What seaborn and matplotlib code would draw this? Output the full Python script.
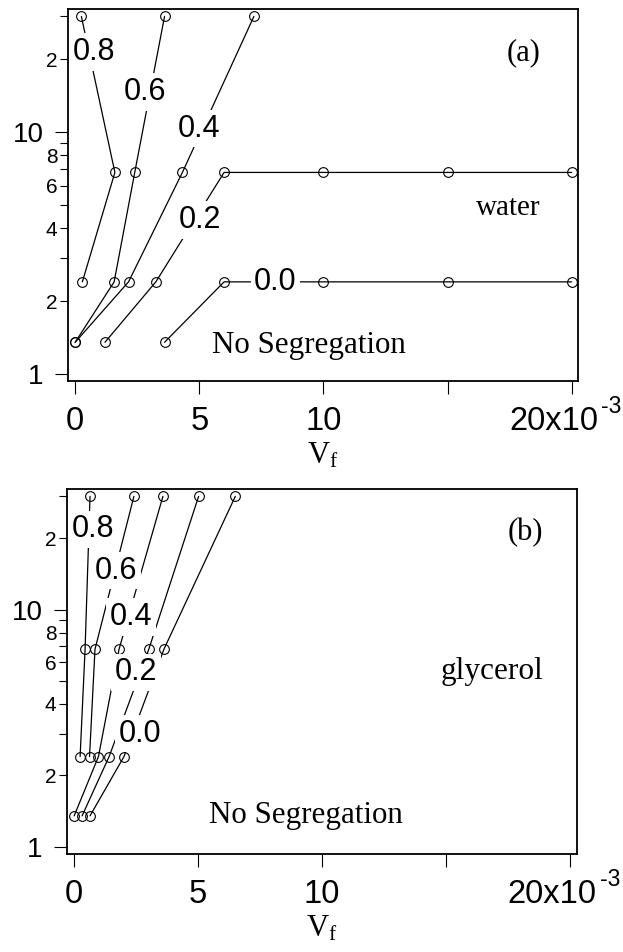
import numpy as np
import pandas as pd
import matplotlib
matplotlib.use("Agg")
import matplotlib.pyplot as plt
import seaborn as sns
from matplotlib.ticker import FixedLocator, FixedFormatter
from matplotlib.transforms import blended_transform_factory, ScaledTranslation

sns.set_theme(style="ticks")
plt.rcParams["font.family"] = ["Liberation Sans", "DejaVu Sans"]
plt.rcParams["mathtext.default"] = "regular"

SANS = "Liberation Sans"
SERIF = "Liberation Serif"

# ---------------- data (x in units of 1e-3) ----------------
series_names = ["0.0", "0.2", "0.4", "0.6", "0.8"]

# panel (a): water
a_x = {
    "0.0": [3.6, 6.0, 10, 15, 20],
    "0.2": [1.2, 3.25, 6.0, 10, 15, 20],
    "0.4": [0.0, 2.15, 4.32, 7.2],
    "0.6": [0.0, 1.57, 2.40, 3.6],
    "0.8": [0.29, 1.6, 0.25],
}
a_y = {
    "0.0": [1.35, 2.4, 2.4, 2.4, 2.4],
    "0.2": [1.35, 2.4, 6.8, 6.8, 6.8, 6.8],
    "0.4": [1.35, 2.4, 6.8, 30],
    "0.6": [1.35, 2.4, 6.8, 30],
    "0.8": [2.4, 6.8, 30],
}

# panel (b): glycerol
b_x = {
    "0.0": [0.64, 2.01, 3.62, 6.5],
    "0.2": [0.32, 1.41, 3.01, 5.02],
    "0.4": [0.0, 0.98, 1.81, 3.58],
    "0.6": [0.62, 0.84, 2.41],
    "0.8": [0.24, 0.44, 0.64],
}
b_y = {
    "0.0": [1.35, 2.4, 6.8, 30],
    "0.2": [1.35, 2.4, 6.8, 30],
    "0.4": [1.35, 2.4, 6.8, 30],
    "0.6": [2.4, 6.8, 30],
    "0.8": [2.4, 6.8, 30],
}

x_ticks = [0, 5, 10, 15, 20]
x_tick_labels = ["0", "5", "10", "", "20x10"]
x_exponent = "-3"
y_major = [1, 10]
y_major_labels = ["1", "10"]
y_minor = [2, 3, 4, 5, 6, 7, 8, 9, 20, 30]
y_minor_labels = ["2", "", "4", "", "6", "", "8", "", "2", ""]

# label placement (annotation positions, data coords)
a_label_pos = {"0.8": (0.755, 21.4), "0.6": (2.80, 14.6), "0.4": (4.97, 10.3),
               "0.2": (5.02, 4.33), "0.0": (8.07, 2.4)}
b_label_pos = {"0.8": (0.77, 21.8), "0.6": (1.70, 14.6), "0.4": (2.30, 9.31),
               "0.2": (2.48, 5.43), "0.0": (2.64, 3.0)}

XT_LEN, XT_PAD, XT_SIZE = 9.5, 8, 23.5


def to_frame(xd, yd):
    rows = []
    for s in series_names:
        for i, (xv, yv) in enumerate(zip(xd[s], yd[s])):
            rows.append({"series": s, "order": i, "x": xv * 1e-3, "y": yv})
    return pd.DataFrame(rows)


fig = plt.figure(figsize=(6.23, 9.52), dpi=100)
axA = fig.add_axes([0.1087, 0.5993, 0.8196, 0.3912])
axB = fig.add_axes([0.1071, 0.1027, 0.8186, 0.3836])


def draw_panel(ax, xd, yd, label_pos):
    df = to_frame(xd, yd)
    sns.lineplot(data=df, x="x", y="y", units="series", estimator=None,
                 sort=False, color="black", linewidth=0.9, marker="o",
                 markersize=7, markerfacecolor="none",
                 markeredgecolor="black", markeredgewidth=0.8,
                 legend=False, ax=ax)
    ax.set_yscale("log")
    ax.set_xlim(-0.3e-3, 20.27e-3)
    ax.set_ylim(0.93, 32.2)

    ticks = [t * 1e-3 for t in x_ticks]
    ax.xaxis.set_major_locator(FixedLocator(ticks))
    ax.xaxis.set_major_formatter(FixedFormatter(
        [lab if i < len(x_ticks) - 1 else "" for i, lab in enumerate(x_tick_labels)]))
    ax.xaxis.set_minor_locator(FixedLocator([]))
    ax.tick_params(axis="x", which="major", direction="out", length=XT_LEN,
                   width=0.8, pad=XT_PAD, labelsize=XT_SIZE, color="black",
                   labelcolor="black")

    # last x label with its exponent, placed like the other tick labels
    base = blended_transform_factory(ax.transData, ax.transAxes)
    down = -(XT_LEN + XT_PAD) / 72
    ax.text(ticks[-1], 0, x_tick_labels[-1],
            transform=base + ScaledTranslation(-18 / 100, down, fig.dpi_scale_trans),
            ha="center", va="top", fontsize=XT_SIZE, family=SANS,
            color="black", clip_on=False)
    ax.text(ticks[-1], 0, x_exponent,
            transform=base + ScaledTranslation(29.5 / 100, down + 10.8 / 100,
                                               fig.dpi_scale_trans),
            ha="left", va="top", fontsize=16.5, family=SANS,
            color="black", clip_on=False)

    ax.yaxis.set_major_locator(FixedLocator(y_major))
    ax.yaxis.set_major_formatter(FixedFormatter(y_major_labels))
    ax.yaxis.set_minor_locator(FixedLocator(y_minor))
    ax.yaxis.set_minor_formatter(FixedFormatter(y_minor_labels))
    ax.tick_params(axis="y", which="major", direction="out", length=9.1,
                   width=0.8, pad=8.4, labelsize=20, color="black",
                   labelcolor="black")
    ax.tick_params(axis="y", which="minor", direction="out", length=5.5,
                   width=0.8, pad=2, labelsize=15, color="black",
                   labelcolor="black")

    for sp in ax.spines.values():
        sp.set_visible(True)
        sp.set_color("black")
        sp.set_linewidth(1.3)

    ax.set_xlabel("V$_{\\mathregular{f}}$", fontsize=22, family=SERIF,
                  labelpad=3, color="black")
    ax.set_ylabel("")
    ax.set_facecolor("white")

    for s in series_names:
        px, py = label_pos[s]
        ax.text(px * 1e-3, py, s, ha="center", va="center", fontsize=22,
                family=SANS, color="black", zorder=6,
                bbox=dict(boxstyle="square,pad=0.12", fc="white", ec="none"))

    return ax


draw_panel(axA, a_x, a_y, a_label_pos)
draw_panel(axB, b_x, b_y, b_label_pos)

axA.text(0.925, 0.863, "(a)", transform=axA.transAxes, ha="right",
         va="baseline", fontsize=22, family=SERIF, color="black")
axA.text(0.925, 0.447, "water", transform=axA.transAxes, ha="right",
         va="baseline", fontsize=21, family=SERIF, color="black")
axA.text(0.282, 0.0757, "No Segregation", transform=axA.transAxes, ha="left",
         va="baseline", fontsize=22.3, family=SERIF, color="black")

axB.text(0.9345, 0.860, "(b)", transform=axB.transAxes, ha="right",
         va="baseline", fontsize=22, family=SERIF, color="black")
axB.text(0.9345, 0.479, "glycerol", transform=axB.transAxes, ha="right",
         va="baseline", fontsize=22.5, family=SERIF, color="black")
axB.text(0.2796, 0.0863, "No Segregation", transform=axB.transAxes, ha="left",
         va="baseline", fontsize=22.3, family=SERIF, color="black")

fig.savefig("out.png", dpi=100, facecolor="white")
